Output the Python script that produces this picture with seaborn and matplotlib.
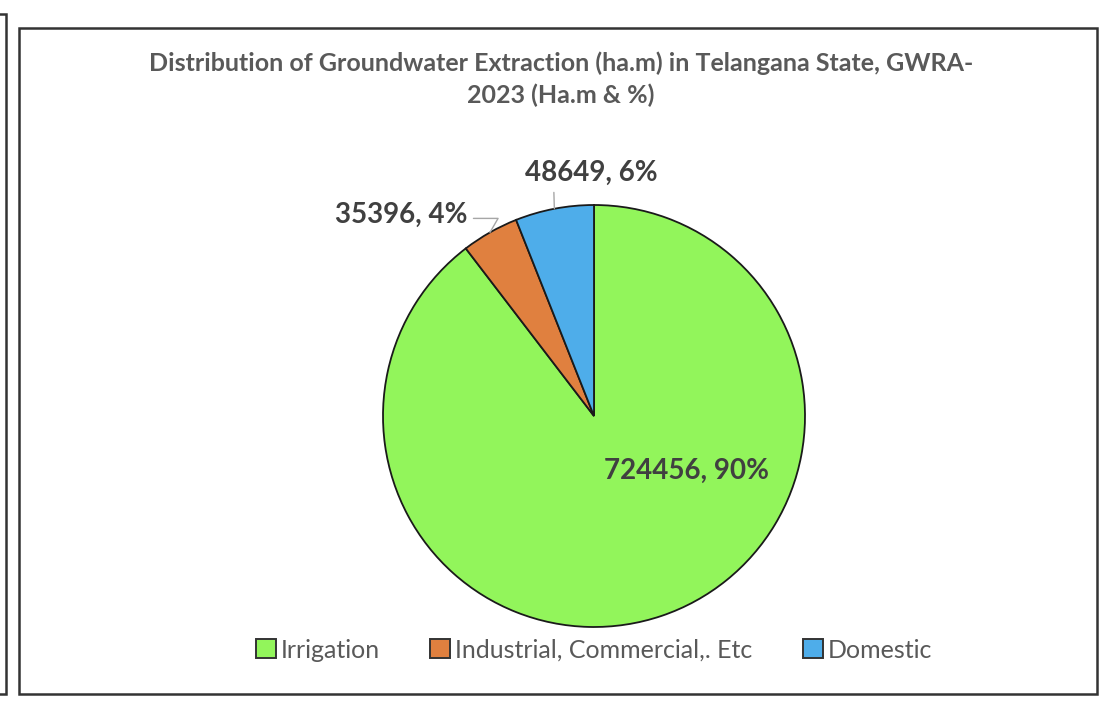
import numpy as np
import matplotlib.pyplot as plt
import seaborn as sns
from matplotlib.patches import Rectangle

# data
categories = ['Irrigation', 'Industrial, Commercial,. Etc', 'Domestic']
extraction = [724456, 35396, 48649]
percent_labels = ['90%', '4%', '6%']
colors = ['#92F55B', '#E0803F', '#4EADEA']

title = 'Distribution of Groundwater Extraction (ha.m) in Telangana State, GWRA-\n2023 (Ha.m & %)'

sns.set_theme(style='white')
plt.rcParams['font.family'] = ['Lato', 'DejaVu Sans']

W, H = 1118, 716
fig = plt.figure(figsize=(W / 100, H / 100), dpi=100)

# frames (main chart border + edge of neighbouring panel)
fig.patches.append(Rectangle((19 / W, 1 - 694 / H), (1097 - 19) / W, (694 - 28) / H,
                             transform=fig.transFigure, fill=False,
                             edgecolor='#333333', lw=1.8))
fig.patches.append(Rectangle((-20 / W, 1 - 694 / H), 26 / W, (694 - 14) / H,
                             transform=fig.transFigure, fill=False,
                             edgecolor='#333333', lw=1.8))

# pie axes: centre (594, 416) px, radius 211 px, limits +/-1.1
r = 211
half = r * 1.1
ax = fig.add_axes([(594 - half) / W, (H - 416 - half) / H, 2 * half / W, 2 * half / H])
wedges, _ = ax.pie(extraction, colors=colors, startangle=90, counterclock=False,
                   wedgeprops=dict(edgecolor='#1a1a1a', linewidth=1.3))
ax.set_xlim(-1.1, 1.1)
ax.set_ylim(-1.1, 1.1)
ax.set_aspect('equal')
ax.axis('off')

label_color = '#404040'
texts = [f'{v}, {p}' for v, p in zip(extraction, percent_labels)]

def edge_point(w):
    mid = np.deg2rad((w.theta1 + w.theta2) / 2)
    return np.cos(mid), np.sin(mid)

# Irrigation label inside the slice
ax.text(0.44, -0.26, texts[0], ha='center', va='center', fontsize=20,
        fontweight='bold', color=label_color)

# Industrial label with leader
ax.annotate(texts[1], xy=edge_point(wedges[1]), xytext=(-0.60, 0.955),
            textcoords='data', ha='right', va='center', fontsize=20,
            fontweight='bold', color=label_color,
            arrowprops=dict(arrowstyle='-', color='#a6a6a6', lw=1,
                            shrinkA=2, shrinkB=0, relpos=(1, 0.35),
                            connectionstyle='angle,angleA=0,angleB=60,rad=0'))

# Domestic label with leader
ax.annotate(texts[2], xy=edge_point(wedges[2]), xytext=(-0.015, 1.15),
            textcoords='data', ha='center', va='center', fontsize=20,
            fontweight='bold', color=label_color,
            arrowprops=dict(arrowstyle='-', color='#a6a6a6', lw=1,
                            shrinkA=2, shrinkB=0, relpos=(0.22, 0)))

fig.text(561 / W, 1 - 79 / H, title, ha='center', va='center', fontsize=18,
         fontweight='bold', color='#595959', linespacing=1.45)

leg = fig.legend(wedges, categories, loc='center', bbox_to_anchor=(594 / W, 1 - 650 / H),
                 ncol=3, frameon=False, fontsize=18, handlelength=0.8, handleheight=0.8,
                 handletextpad=0.2, columnspacing=2.0, labelcolor='#595959')
for h in leg.legend_handles:
    h.set_edgecolor('#333333')
    h.set_linewidth(1.4)

fig.savefig('out.png', dpi=100, facecolor='white')
